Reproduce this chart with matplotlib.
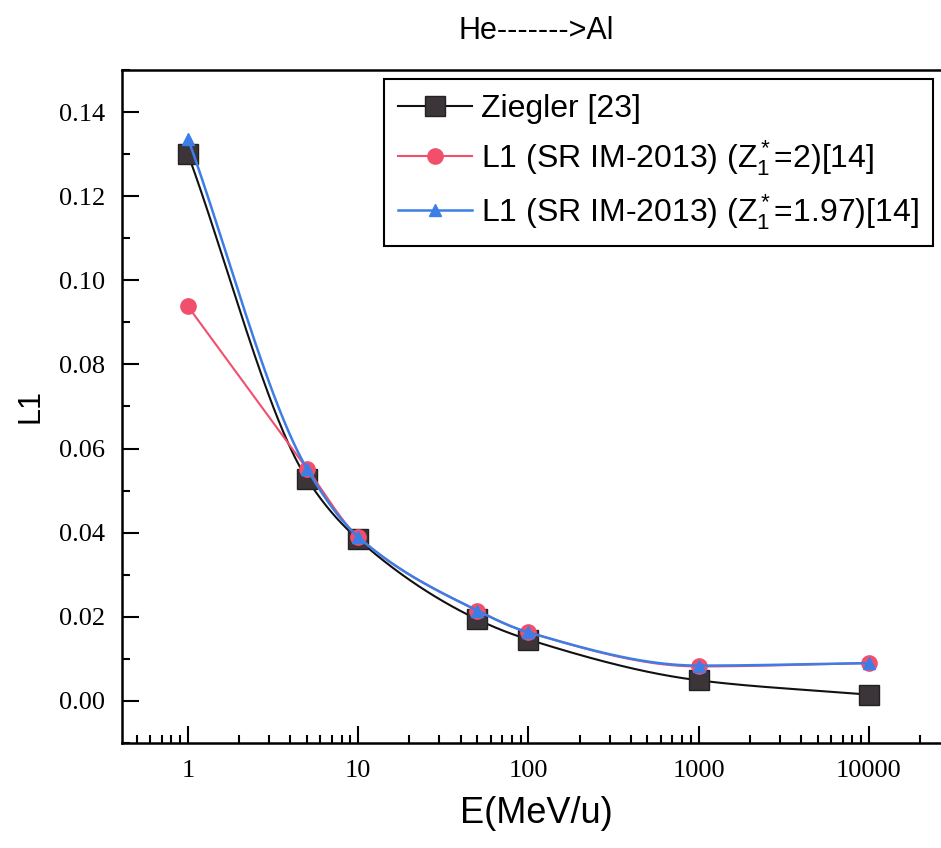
import matplotlib
matplotlib.use('Agg')
import matplotlib.pyplot as plt
from matplotlib.ticker import LogLocator, NullFormatter, MultipleLocator, FixedLocator
import numpy as np

plt.rcParams['mathtext.fontset'] = 'custom'
plt.rcParams['mathtext.rm'] = 'Liberation Sans'
plt.rcParams['mathtext.it'] = 'Liberation Sans'

# data
energy = [1, 5, 10, 50, 100, 1000, 10000]
ziegler = [0.1300, 0.0528, 0.0384, 0.0194, 0.0146, 0.0049, 0.0015]
srim_z2 = [0.0938, 0.0552, 0.0390, 0.0215, 0.0163, 0.0082, 0.0090]
srim_z197 = [0.1337, 0.0552, 0.0390, 0.0215, 0.0163, 0.0084, 0.0090]


def pchip(x, y, xs):
    # monotone cubic, like the smooth connecting lines in the original
    x = np.asarray(x, float)
    y = np.asarray(y, float)
    h = np.diff(x)
    d = np.diff(y) / h
    m = np.zeros_like(y)
    for k in range(1, len(x) - 1):
        if d[k - 1] * d[k] > 0:
            w1 = 2 * h[k] + h[k - 1]
            w2 = h[k] + 2 * h[k - 1]
            m[k] = (w1 + w2) / (w1 / d[k - 1] + w2 / d[k])
    m[0] = d[0]
    m[-1] = d[-1]
    out = np.empty_like(xs)
    for i, xv in enumerate(xs):
        k = min(np.searchsorted(x, xv, side='right') - 1, len(x) - 2)
        t = (xv - x[k]) / h[k]
        h00 = 2 * t**3 - 3 * t**2 + 1
        h10 = t**3 - 2 * t**2 + t
        h01 = -2 * t**3 + 3 * t**2
        h11 = t**3 - t**2
        out[i] = h00 * y[k] + h10 * h[k] * m[k] + h01 * y[k + 1] + h11 * h[k] * m[k + 1]
    return out


lx = np.log10(energy)
xs = np.linspace(lx[0], lx[-1], 400)
xs_r = np.linspace(lx[1], lx[-1], 400)

fig = plt.figure(figsize=(9.41, 8.48), dpi=100)
ax = fig.add_axes([0.1297, 0.1238, 0.88, 0.7937])

black = '#111111'
red = '#f24f6c'
blue = '#3d7ee6'

ax.plot(10**xs, pchip(lx, ziegler, xs), color=black, lw=1.5, zorder=2)
ax.plot(energy, ziegler, ls='none', marker='s', ms=14, mfc='#3b3439', mec='#222222', zorder=3)
# red: straight from the first point, smooth after
ax.plot(energy[:2], srim_z2[:2], color=red, lw=1.5, zorder=4)
ax.plot(10**xs_r, pchip(lx[1:], srim_z2[1:], xs_r), color=red, lw=1.5, zorder=4)
ax.plot(energy, srim_z2, ls='none', marker='o', ms=11, mec=red, mfc=red, zorder=4)
ax.plot(10**xs, pchip(lx, srim_z197, xs), color=blue, lw=1.8, zorder=5)
ax.plot(energy, srim_z197, ls='none', marker='^', ms=9, mfc=blue, mec=blue, zorder=6)

# legend proxies
h1, = ax.plot([], [], color=black, lw=1.5, marker='s', ms=14, mfc='#3b3439', mec='#222222')
h2, = ax.plot([], [], color=red, lw=1.5, marker='o', ms=11, mfc=red, mec=red)
h3, = ax.plot([], [], color=blue, lw=1.8, marker='^', ms=9, mfc=blue, mec=blue)
leg = ax.legend([h1, h2, h3],
                ['Ziegler [23]',
                 r'L1 (SR IM-2013) ($\mathregular{Z_1^*}$=2)[14]',
                 r'L1 (SR IM-2013) ($\mathregular{Z_1^*}$=1.97)[14]'],
                loc='upper left', bbox_to_anchor=(0.316, 0.986), frameon=True, fancybox=False,
                edgecolor='black', framealpha=1, handlelength=2.3, handletextpad=0.3,
                borderpad=0.45, labelspacing=0.45, borderaxespad=0,
                prop={'family': 'Liberation Sans', 'size': 23})
leg.get_frame().set_linewidth(1.5)

ax.set_xscale('log')
ax.set_xlim(0.41, 30000)
ax.set_ylim(-0.01, 0.15)
ax.xaxis.set_major_locator(FixedLocator([1, 10, 100, 1000, 10000]))
ax.set_xticklabels(['1', '10', '100', '1000', '10000'])
ax.xaxis.set_minor_locator(LogLocator(base=10, subs=np.arange(2, 10), numticks=20))
ax.xaxis.set_minor_formatter(NullFormatter())
ax.yaxis.set_major_locator(FixedLocator([0, 0.02, 0.04, 0.06, 0.08, 0.10, 0.12, 0.14]))
ax.set_yticklabels(['0.00', '0.02', '0.04', '0.06', '0.08', '0.10', '0.12', '0.14'])
ax.yaxis.set_minor_locator(MultipleLocator(0.01))

ax.tick_params(which='both', direction='in', width=1.5, top=False, right=False)
ax.tick_params(which='major', length=12, pad=12)
ax.tick_params(which='minor', length=6)
for lab in ax.get_xticklabels() + ax.get_yticklabels():
    lab.set_family('Liberation Serif')
    lab.set_fontsize(19)
for sp in ax.spines.values():
    sp.set_linewidth(1.8)

ax.set_xlabel('E(MeV/u)', family='Liberation Sans', fontsize=26, labelpad=10)
ax.set_ylabel('L1', family='Liberation Sans', fontsize=22, labelpad=10)
ax.set_title('He------->Al', family='Liberation Sans', fontsize=22, pad=22)

fig.savefig('out.png', dpi=100)
